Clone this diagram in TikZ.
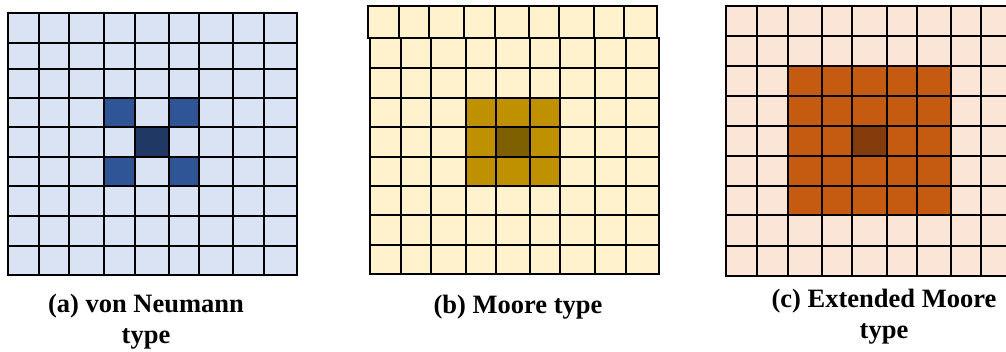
\documentclass[tikz,border=0pt]{standalone}
\usepackage{fontspec}
\setmainfont{Liberation Serif}
\definecolor{aLight}{HTML}{DAE3F3}
\definecolor{aMid}{HTML}{2F5597}
\definecolor{aDark}{HTML}{203864}
\definecolor{bLight}{HTML}{FFF2CC}
\definecolor{bMid}{HTML}{BF9000}
\definecolor{bDark}{HTML}{7F6000}
\definecolor{cLight}{HTML}{FBE5D6}
\definecolor{cMid}{HTML}{C55A11}
\definecolor{cDark}{HTML}{843C0C}
\newcommand\cellloop[5]{%
  \foreach \y [remember=\y as \py (initially #3)] in {#4}{%
    \foreach \x [remember=\x as \px (initially #1)] in {#2}{%
      \path[#5] (\px,\py) rectangle (\x,\y);}}}
\tikzset{
  gridline/.style={draw=black, line width=1.9pt},
  caption/.style={font=\bfseries\fontsize{26.5}{31}\selectfont, align=center, inner sep=0pt}
}
\begin{document}
\begin{tikzpicture}[x=1pt,y=-1pt]
\useasboundingbox (0,0) rectangle (1006,351);
\clip (0,0) rectangle (1006,351);
% ---------- (a) von Neumann ----------
\cellloop{8}{39,69,104,135,169,199,233,264,297}{13}{43,69,98,127,157,186,216,246,275}{fill=aLight}
\fill[aMid] (104,98) rectangle (135,127);
\fill[aMid] (169,98) rectangle (199,127);
\fill[aMid] (104,157) rectangle (135,186);
\fill[aMid] (169,157) rectangle (199,186);
\fill[aDark] (135,127) rectangle (169,157);
\cellloop{8}{39,69,104,135,169,199,233,264,297}{13}{43,69,98,127,157,186,216,246,275}{gridline}
% ---------- (b) Moore ----------
\cellloop{368}{399,429,464,495,529,559,594,624,657}{6}{38}{fill=bLight}
\cellloop{370}{401,431,466,496,530,560,595,626,659}{38}{68,98,127,157,186,215,245,274}{fill=bLight}
\fill[bMid] (466,98) rectangle (560,186);
\fill[bDark] (496,127) rectangle (530,157);
\cellloop{368}{399,429,464,495,529,559,594,624,657}{6}{38}{gridline}
\cellloop{370}{401,431,466,496,530,560,595,626,659}{38}{68,98,127,157,186,215,245,274}{gridline}
% ---------- (c) Extended Moore ----------
\cellloop{726}{757,788,822,852,887,917,951,981,1012}{6}{36,66,96,126,156,186,215,246,276}{fill=cLight}
\fill[cMid] (788,66) rectangle (951,215);
\fill[cDark] (852,126) rectangle (887,156);
\cellloop{726}{757,788,822,852,887,917,951,981,1012}{6}{36,66,96,126,156,186,215,246,276}{gridline}
% ---------- captions ----------
\node[caption, anchor=base] (capA) at (146,343) {(a) von Neumann\\type};
\node[caption, anchor=base] (capB) at (518,313) {(b) Moore type};
\node[caption, anchor=base] (capC) at (884,338) {(c) Extended Moore\\type};
\end{tikzpicture}
\end{document}
